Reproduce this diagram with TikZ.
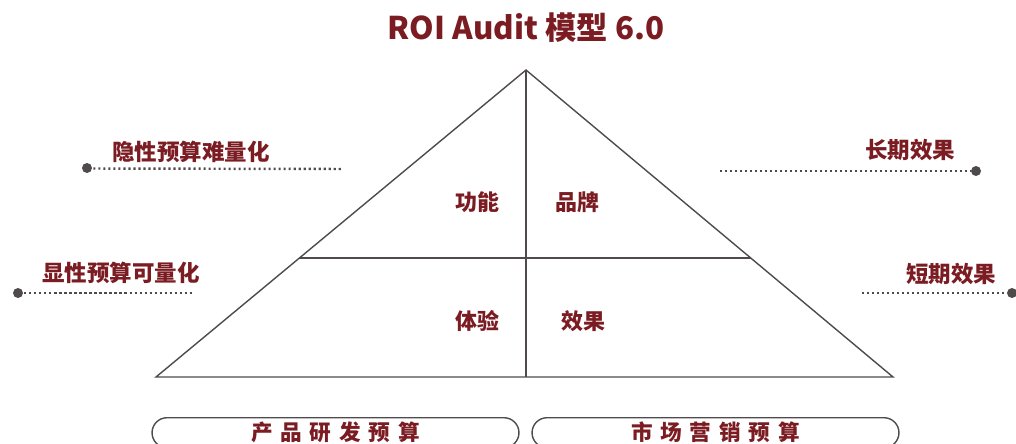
\documentclass[tikz,border=0pt]{standalone}
\usepackage{fontspec}
\setmainfont{Noto Sans CJK SC}
\usetikzlibrary{positioning}
\definecolor{wine}{HTML}{7B1C22}
\definecolor{ink}{HTML}{504B4B}
\tikzstyle{edge} = [ink, line width=0.8pt]
\tikzstyle{cell} = [text=wine, inner sep=0pt, font=\bfseries\fontsize{12.5}{15}\selectfont]
\tikzstyle{side} = [text=wine, inner sep=0pt, font=\bfseries\fontsize{12.8}{15}\selectfont]
\tikzstyle{guide} = [ink, line width=1.4pt, dash pattern=on 1.2pt off 1.65pt]
\tikzstyle{knob} = [circle, fill=ink, inner sep=0pt, minimum size=0.2cm]
\tikzstyle{budget} = [draw=ink, line width=0.8pt, rounded corners=0.3cm, anchor=north,
                      minimum width=7.34cm, minimum height=0.6cm, inner sep=0pt, text=wine,
                      font=\bfseries\fontsize{12.3}{14}\selectfont\addfontfeature{LetterSpace=36}]

\begin{document}
\begin{tikzpicture}[x=0.02cm, y=-0.02cm]
    \useasboundingbox (0,0) rectangle (1016,443);
    \node[text=wine, inner sep=0pt, font=\bfseries\fontsize{17.8}{21}\selectfont] (title) at (526,28) {ROI Audit 模型 6.0};
    % pyramid
    \coordinate (top) at (526,70);
    \coordinate (bl) at (156,377);
    \coordinate (br) at (893,377);
    \coordinate (bm) at (526,377);
    \coordinate (ml) at (299,258);
    \coordinate (mr) at (751,258);
    \draw[edge] (top) -- (bl) -- (br) -- cycle;
    \draw[edge] (top) -- (bm);
    \draw[edge] (ml) -- (mr);
    \node[cell] (func) at (477,202) {功能};
    \node[cell] (brand) at (577,202) {品牌};
    \node[cell] (exp) at (477,321) {体验};
    \node[cell] (effect) at (583,321) {效果};
    % left side
    \node[side] (hidden) at (191,152) {隐性预算难量化};
    \node[knob] (hdot) at (87,168) {};
    \coordinate (hend) at (343,169);
    \draw[guide] (hdot.east) ++(1,0.5) -- (hend);
    \node[side] (shown) at (121,273) {显性预算可量化};
    \node[knob] (sdot) at (18,293) {};
    \coordinate (send) at (192,293);
    \draw[guide] (sdot.east) ++(1,0) -- (send);
    % right side
    \node[side] (long) at (910,150) {长期效果};
    \node[knob] (ldot) at (976,171) {};
    \coordinate (lend) at (720,171);
    \draw[guide] (lend) -- (ldot.west);
    \node[side] (short) at (951,274) {短期效果};
    \node[knob] (rdot) at (1012,293) {};
    \coordinate (rend) at (862,293);
    \draw[guide] (rend) -- (rdot.west);
    % budgets
    \node[budget] (rd) at (335.5,417) {产品研发预算};
    \node[budget] (mkt) at (715.5,417) {市场营销预算};
\end{tikzpicture}
\end{document}
